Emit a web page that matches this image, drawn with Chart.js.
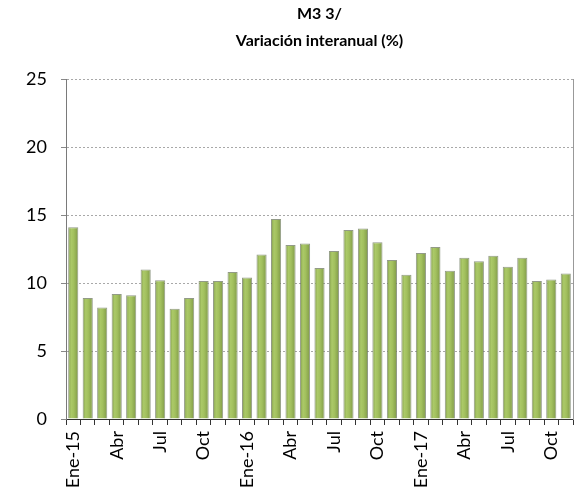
<!DOCTYPE html>
<html>
<head>
<meta charset="utf-8">
<script src="https://cdn.jsdelivr.net/npm/chart.js@4"></script>
<style>
  html, body { margin: 0; padding: 0; background: #fff; }
  #wrap { width: 583px; height: 498px; }
</style>
</head>
<body>
<div id="wrap"><canvas id="m3Chart"></canvas></div>
<script>
const titleLines = ['M3 3/', 'Variación interanual (%)'];

// ene-2015 .. nov-2017, only every third month carries a label
const tickLabels = [
  'Ene-15', '', '', 'Abr', '', '', 'Jul', '', '', 'Oct', '', '',
  'Ene-16', '', '', 'Abr', '', '', 'Jul', '', '', 'Oct', '', '',
  'Ene-17', '', '', 'Abr', '', '', 'Jul', '', '', 'Oct', ''
];

const m3Values = [
  14.1, 8.9, 8.2, 9.2, 9.1, 11.0, 10.2, 8.1, 8.9, 10.15, 10.15, 10.8,
  10.4, 12.1, 14.7, 12.8, 12.9, 11.1, 12.35, 13.9, 14.0, 13.0, 11.7, 10.6,
  12.2, 12.65, 10.9, 11.85, 11.6, 12.0, 11.2, 11.85, 10.15, 10.25, 10.7
];

const yTicks = [0, 5, 10, 15, 20, 25];

const FONT = 'Lato, "Open Sans", sans-serif';
const BAR_PCT = 0.7;

// horizontal shading so each bar looks a bit like a cylinder
function barFill(context) {
  const chart = context.chart;
  const xScale = chart.scales.x;
  if (!chart.chartArea || !xScale) return '#9bbb59';
  const cx = xScale.getPixelForValue(context.dataIndex);
  const w = (chart.chartArea.width / tickLabels.length) * BAR_PCT;
  const g = chart.ctx.createLinearGradient(cx - w / 2, 0, cx + w / 2, 0);
  g.addColorStop(0, '#829d4a');
  g.addColorStop(0.3, '#abc968');
  g.addColorStop(0.55, '#a2c05e');
  g.addColorStop(1, '#7f9947');
  return g;
}

new Chart(document.getElementById('m3Chart'), {
  type: 'bar',
  data: {
    labels: tickLabels,
    datasets: [{
      label: 'M3',
      data: m3Values,
      backgroundColor: barFill,
      borderColor: 'rgba(110,120,95,0.75)',
      borderWidth: 1,
      borderSkipped: 'bottom',
      barPercentage: BAR_PCT,
      categoryPercentage: 1
    }]
  },
  options: {
    responsive: true,
    maintainAspectRatio: false,
    animation: false,
    layout: { padding: { left: 0, right: 10, top: 0, bottom: 0 } },
    plugins: {
      legend: { display: false },
      tooltip: { enabled: false },
      title: {
        display: true,
        text: titleLines,
        fullSize: false,
        color: '#000',
        font: { family: FONT, size: 16, weight: 'bold', lineHeight: 1.7 },
        padding: { top: 0, bottom: 24.6 }
      }
    },
    scales: {
      x: {
        grid: {
          display: true,
          drawOnChartArea: false,
          drawTicks: true,
          tickLength: 6,
          tickColor: '#333',
          offset: true
        },
        border: { display: true, color: '#333', width: 1 },
        ticks: {
          autoSkip: false,
          minRotation: 90,
          maxRotation: 90,
          padding: 6,
          color: '#000',
          font: { family: FONT, size: 18 }
        },
        afterFit: (s) => {
          s.height = 79;
          s.paddingLeft = 0;
          s.paddingRight = 0;
        }
      },
      y: {
        min: 0,
        max: 25,
        afterBuildTicks: (s) => { s.ticks = yTicks.map(v => ({ value: v })); },
        grid: {
          color: '#a8a8a8',
          lineWidth: 1,
          drawTicks: true,
          tickLength: 5,
          tickColor: '#888'
        },
        border: { display: true, color: '#7a7a7a', width: 1, dash: [2, 2] },
        ticks: {
          padding: 14,
          color: '#000',
          font: { family: FONT, size: 18 }
        },
        afterFit: (s) => { s.width = 66; }
      },
      y2: {
        position: 'right',
        min: 0,
        max: 25,
        grid: { display: false },
        ticks: { display: false },
        border: { display: true, color: '#999', width: 1 },
        afterFit: (s) => { s.width = 0; }
      }
    }
  }
});
</script>
</body>
</html>
